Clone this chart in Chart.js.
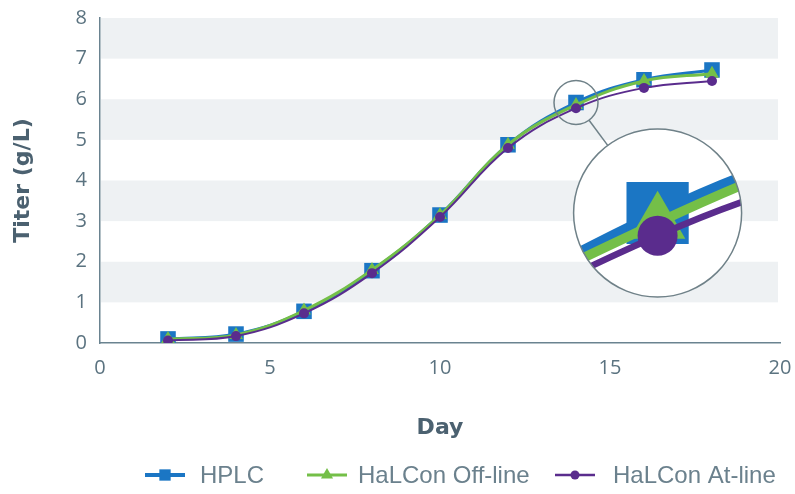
<!DOCTYPE html>
<html>
<head>
<meta charset="utf-8">
<script src="https://cdn.jsdelivr.net/npm/chart.js@4.4.1/dist/chart.umd.min.js"></script>
<style>
  html, body { margin: 0; padding: 0; background: #fff; }
</style>
</head>
<body>
<canvas id="titerChart" width="795" height="494"></canvas>
<script>
// Titer (g/L) per culture day
const days = [2, 4, 6, 8, 10, 12, 14, 16, 18];
const hplc = [0.10, 0.22, 0.78, 1.78, 3.15, 4.88, 5.92, 6.48, 6.72];
const halconOffline = [0.10, 0.20, 0.80, 1.80, 3.15, 4.88, 5.86, 6.45, 6.63];
const halconAtline = [0.06, 0.17, 0.73, 1.72, 3.10, 4.80, 5.78, 6.28, 6.45];

const seriesNames = ['HPLC', 'HaLCon Off-line', 'HaLCon At-line'];
const xTicks = [0, 5, 10, 15, 20];
const yTicks = [0, 1, 2, 3, 4, 5, 6, 7, 8];
const shadedBands = [[1, 2], [3, 4], [5, 6], [7, 8]];
const zoomDay = 14;

const BLUE = '#1b76c4';
const GREEN = '#74bf48';
const PURPLE = '#5a2c8d';
const AXIS = '#6a8390';
const TICK = '#5b7380';
const TITLE = '#4b6170';
const LEGEND_TEXT = '#6b818d';

const toPoints = vals => vals.map((v, i) => ({ x: days[i], y: v }));

// Grey horizontal bands behind the plot
const bandsPlugin = {
    id: 'bands',
    beforeDraw(chart) {
        const { ctx, chartArea, scales } = chart;
        ctx.save();
        ctx.fillStyle = '#eef1f3';
        shadedBands.forEach(([lo, hi]) => {
            const top = scales.y.getPixelForValue(hi);
            const bottom = scales.y.getPixelForValue(lo);
            ctx.fillRect(chartArea.left + 1, top, chartArea.right - chartArea.left - 3, bottom - top);
        });
        ctx.restore();
    }
};

// Magnifier bubble around the day-14 points
const magnifierPlugin = {
    id: 'magnifier',
    afterDatasetsDraw(chart, args, opts) {
        const { ctx, scales } = chart;
        const idx = days.indexOf(zoomDay);
        const focus = chart.getDatasetMeta(0).data[idx];
        const fx = focus.x, fy = focus.y;
        const cx = scales.x.getPixelForValue(opts.center.x);
        const cy = scales.y.getPixelForValue(opts.center.y);
        const R = opts.radius, r = opts.smallRadius, k = opts.zoom;

        // magnified copy of the lines and markers
        ctx.save();
        ctx.beginPath();
        ctx.arc(cx, cy, R, 0, Math.PI * 2);
        ctx.fillStyle = '#fff';
        ctx.fill();
        ctx.clip();
        ctx.translate(cx, cy);
        ctx.scale(k, k);
        ctx.translate(-fx, -fy);
        [0, 1, 2].forEach(i => {
            const meta = chart.getDatasetMeta(i);
            const lineOpts = meta.dataset.options;
            const bw = lineOpts.borderWidth;
            lineOpts.borderWidth = bw * opts.lineScale;
            meta.dataset.draw(ctx);
            lineOpts.borderWidth = bw;
            meta.data.forEach(p => p.draw(ctx));
        });
        ctx.restore();

        // outlines + connector
        const dx = cx - fx, dy = cy - fy;
        const d = Math.hypot(dx, dy);
        const ux = dx / d, uy = dy / d;
        ctx.save();
        ctx.strokeStyle = '#6f8188';
        ctx.lineWidth = 1.5;
        ctx.beginPath();
        ctx.arc(cx, cy, R, 0, Math.PI * 2);
        ctx.stroke();
        ctx.beginPath();
        ctx.arc(fx, fy, r, 0, Math.PI * 2);
        ctx.stroke();
        ctx.beginPath();
        ctx.moveTo(fx + ux * r, fy + uy * r);
        ctx.lineTo(cx - ux * R, cy - uy * R);
        ctx.stroke();
        ctx.restore();
    }
};

// Legend drawn as line + marker, like the original figure
const lineLegendPlugin = {
    id: 'lineLegend',
    afterDraw(chart, args, opts) {
        const { ctx } = chart;
        ctx.save();
        opts.items.forEach((item, i) => {
            const ds = chart.data.datasets[i];
            ctx.strokeStyle = ds.borderColor;
            ctx.lineWidth = item.lineWidth;
            ctx.beginPath();
            ctx.moveTo(item.iconX - 20, opts.y);
            ctx.lineTo(item.iconX + 20, opts.y);
            ctx.stroke();
            ctx.fillStyle = ds.pointBackgroundColor;
            Chart.helpers.drawPoint(ctx, {
                pointStyle: ds.pointStyle, radius: item.radius, rotation: 0, borderWidth: 0
            }, item.iconX, opts.y);
            ctx.fillStyle = LEGEND_TEXT;
            ctx.font = '24px "Liberation Sans", Arial, sans-serif';
            ctx.textAlign = 'left';
            ctx.textBaseline = 'middle';
            ctx.fillText(ds.label, item.textX, opts.y + 1);
        });
        ctx.restore();
    }
};

new Chart(document.getElementById('titerChart').getContext('2d'), {
    type: 'line',
    data: {
        datasets: [
            {
                label: seriesNames[0],
                data: toPoints(hplc),
                borderColor: BLUE,
                backgroundColor: BLUE,
                pointBackgroundColor: BLUE,
                borderWidth: 3,
                pointStyle: 'rect',
                pointRadius: 11,
                pointBorderWidth: 0,
                order: 3
            },
            {
                label: seriesNames[1],
                data: toPoints(halconOffline),
                borderColor: GREEN,
                backgroundColor: GREEN,
                pointBackgroundColor: GREEN,
                borderWidth: 3,
                pointStyle: 'triangle',
                pointRadius: 8,
                pointBorderWidth: 0,
                order: 2
            },
            {
                label: seriesNames[2],
                data: toPoints(halconAtline),
                borderColor: PURPLE,
                backgroundColor: PURPLE,
                pointBackgroundColor: PURPLE,
                borderWidth: 2,
                pointStyle: 'circle',
                pointRadius: 5,
                pointBorderWidth: 0,
                order: 1
            }
        ]
    },
    options: {
        responsive: false,
        devicePixelRatio: 1,
        animation: false,
        layout: { padding: { left: 0, right: 15, top: 18, bottom: 0 } },
        elements: { line: { tension: 0.4 } },
        scales: {
            x: {
                type: 'linear',
                min: 0,
                max: 20,
                afterBuildTicks: s => { s.ticks = xTicks.map(v => ({ value: v })); },
                afterFit: s => { s.height = 151; s.paddingLeft = 0; s.paddingRight = 0; },
                grid: { display: false, drawTicks: false },
                border: { display: true, color: AXIS, width: 1.5 },
                ticks: {
                    padding: 13, color: TICK, maxRotation: 0,
                    font: { family: 'Open Sans', size: 20 }
                },
                title: {
                    display: true, text: 'Day', color: TITLE,
                    font: { family: 'DejaVu Sans', size: 22, weight: 'bold' },
                    padding: { top: 0, bottom: 53 }
                }
            },
            y: {
                min: 0,
                max: 8,
                afterBuildTicks: s => { s.ticks = yTicks.map(v => ({ value: v })); },
                afterFit: s => { s.width = 100; s.paddingTop = 0; s.paddingBottom = 0; },
                grid: { display: false, drawTicks: false },
                border: { display: true, color: AXIS, width: 1.5 },
                ticks: {
                    padding: 13, color: TICK,
                    font: { family: 'Open Sans', size: 20 }
                },
                title: {
                    display: true, text: 'Titer (g/L)', color: TITLE,
                    font: { family: 'DejaVu Sans', size: 22, weight: 'bold' },
                    padding: { top: 10, bottom: 0 }
                }
            }
        },
        plugins: {
            legend: { display: false },
            tooltip: { enabled: false },
            magnifier: { center: { x: 16.4, y: 3.2 }, radius: 84, smallRadius: 22, zoom: 4, lineScale: 0.8 },
            lineLegend: {
                y: 475,
                items: [
                    { iconX: 165, textX: 200, lineWidth: 4, radius: 8 },
                    { iconX: 327, textX: 358, lineWidth: 3, radius: 7 },
                    { iconX: 575, textX: 613, lineWidth: 2.5, radius: 4.5 }
                ]
            }
        }
    },
    plugins: [bandsPlugin, magnifierPlugin, lineLegendPlugin]
});
</script>
</body>
</html>
